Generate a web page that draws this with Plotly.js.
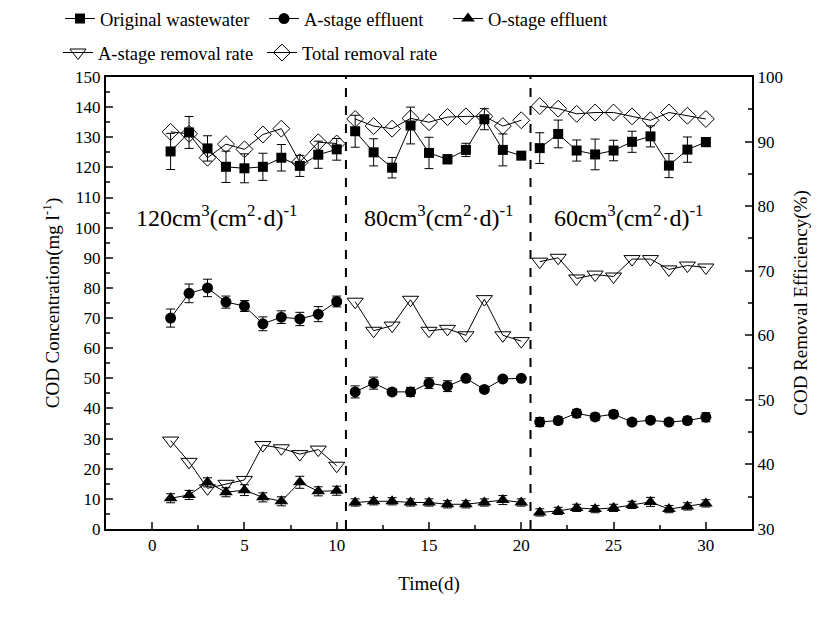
<!DOCTYPE html>
<html>
<head>
<meta charset="utf-8">
<script src="https://cdn.plot.ly/plotly-3.0.1.min.js"></script>
<style>html,body{margin:0;padding:0;background:#fff}#chart{width:829px;height:626px}</style>
</head>
<body>
<div id="chart"></div>
<script>
const days = [1,2,3,4,5,6,7,8,9,10,11,12,13,14,15,16,17,18,19,20,21,22,23,24,25,26,27,28,29,30];

const originalWW = [125.3,131.6,126.3,120.2,119.7,120.2,123.2,120.5,124.2,126.0,
                    132.0,125.0,119.9,133.9,124.8,122.7,125.8,136.0,125.8,123.9,
                    126.4,131.1,125.6,124.3,125.6,128.5,130.3,120.6,125.9,128.4];
const originalErr = [6,5.3,4.2,5.2,4.8,4.5,4.4,3.5,4.5,3.6,
                     5.3,4.5,3.4,6.1,5.2,1.5,2.2,3.5,5.3,0,
                     5.1,4.6,3.5,5.1,3.4,3.5,3.5,4,4.2,1.5];

const aEffluent = [70.0,78.2,80.0,75.3,74.0,68.1,70.3,69.7,71.3,75.5,
                   45.5,48.4,45.5,45.5,48.4,47.4,50.0,46.3,49.8,50.0,
                   35.5,36.0,38.4,37.2,38.1,35.5,36.1,35.5,36.0,37.1];
const aEffErr = [3,3.1,2.9,2,1.8,2.3,2.1,2.2,2.5,1.8,
                 2,2,1,1.5,1.8,1.8,0.5,0,0.5,0.3,
                 1.5,1.2,1.3,1.2,1.2,1,1,1,1.2,1.5];

const oEffluent = [10.2,11.3,15.5,12.2,12.9,10.5,9.2,15.5,12.5,12.7,
                   8.8,9.2,9.2,8.8,8.8,8.2,8.2,8.8,9.6,8.8,
                   5.5,6.0,7.0,6.6,7.0,8.0,9.0,6.6,7.5,8.5];
const oEffErr = [1.5,1.5,1.5,1.5,1.8,1.5,1.5,2,1.5,1.5,
                 1.2,1.2,1.2,1.2,1.2,1.2,1.2,1.2,1.5,1.2,
                 1.2,1.2,1.2,1.2,1.2,1.2,1.5,1.2,1.2,1.2];

const aRemoval = [43.7,40.4,36.3,37.0,37.6,43.0,42.5,41.6,42.3,39.8,
                  65.2,60.7,61.5,65.5,60.7,61.0,60.0,65.6,60.0,59.1,
                  71.4,72.0,68.8,69.4,69.1,71.8,71.8,70.2,70.8,70.5];

const totalRemoval = [91.5,91.2,87.5,89.6,88.8,91.1,92.0,86.8,89.9,89.7,
                      93.5,92.4,92.0,93.6,93.0,93.8,93.9,93.9,92.4,93.3,
                      95.5,95.1,94.3,94.5,94.5,93.9,93.3,94.5,94.0,93.5];

const stageLabels = ["120cm<sup>3</sup>(cm<sup>2</sup>·d)<sup>-1</sup>",
                     "80cm<sup>3</sup>(cm<sup>2</sup>·d)<sup>-1</sup>",
                     "60cm<sup>3</sup>(cm<sup>2</sup>·d)<sup>-1</sup>"];
const stageLabelX = [3.5, 15.5, 25.8];
const stageBoundaries = [10.5, 20.5];
// number of days in each flux stage (lines are not joined across stages)
const stageLengths = [10, 10, 10];

const FONT = "Liberation Serif, Times New Roman, serif";

// split a per-day array into stage segments separated by null (gap in the line)
function segmented(arr) {
  const out = [];
  let i = 0;
  stageLengths.forEach((n, s) => {
    for (let k = 0; k < n; k++) out.push(arr[i++]);
    if (s < stageLengths.length - 1) out.push(null);
  });
  return out;
}
const eb = (arr) => ({type:'data', array:segmented(arr), visible:true, color:'#000', thickness:1, width:4.5});
const X = segmented(days);

const traces = [
  {x:X, y:segmented(originalWW), name:'Original wastewater', mode:'lines+markers', legend:'legend',
   line:{color:'#000', width:1}, marker:{symbol:'square', size:10, color:'#000'}, error_y:eb(originalErr)},
  {x:X, y:segmented(aEffluent), name:'A-stage effluent', mode:'lines+markers', legend:'legend2',
   line:{color:'#000', width:1}, marker:{symbol:'circle', size:11, color:'#000'}, error_y:eb(aEffErr)},
  {x:X, y:segmented(oEffluent), name:'O-stage effluent', mode:'lines+markers', legend:'legend3',
   line:{color:'#000', width:1}, marker:{symbol:'triangle-up', size:12, color:'#000'}, error_y:eb(oEffErr)},
  {x:X, y:segmented(aRemoval), name:'A-stage removal rate', mode:'lines+markers', yaxis:'y2', legend:'legend4',
   line:{color:'#000', width:1}, marker:{symbol:'triangle-down-open', size:14, color:'#000', line:{width:1}}},
  {x:X, y:segmented(totalRemoval), name:'Total removal rate', mode:'lines+markers', yaxis:'y2', legend:'legend5',
   line:{color:'#000', width:1}, marker:{symbol:'diamond-open', size:13, color:'#000', line:{width:1}}}
];

const shapes = stageBoundaries.map(b => ({type:'line', xref:'x', yref:'paper', x0:b, x1:b, y0:0, y1:1,
  line:{color:'#000', width:2, dash:'dash'}}));

const annotations = stageLabels.map((t,i) => ({text:t, x:stageLabelX[i], y:104, xref:'x', yref:'y',
  showarrow:false, font:{family:FONT, size:24, color:'#000'}}));

function leg(px, py) {
  return {orientation:'h', x:px/829, y:1-py/626, xref:'container', yref:'container',
          xanchor:'left', yanchor:'middle', font:{family:FONT, size:18.5, color:'#000'},
          bgcolor:'rgba(0,0,0,0)', borderwidth:0};
}

const layout = {
  width:829, height:626,
  margin:{l:106, r:77, t:77, b:97, autoexpand:false},
  paper_bgcolor:'#fff', plot_bgcolor:'#fff',
  font:{family:FONT, size:17, color:'#000'},
  showlegend:true,
  legend:leg(60, 19), legend2:leg(264, 19), legend3:leg(448, 19),
  legend4:leg(58, 53), legend5:leg(262, 53),
  xaxis:{range:[-2.5,32.5], tickvals:[0,5,10,15,20,25,30], ticks:'inside', ticklen:7, tickwidth:2,
         showline:true, linewidth:2, linecolor:'#000', mirror:true, showgrid:false, zeroline:false,
         minor:{dtick:2.5, tick0:0, ticks:'inside', ticklen:4, tickwidth:2},
         title:{text:'Time(d)', font:{family:FONT, size:19}, standoff:22},
         tickfont:{family:FONT, size:17}},
  yaxis:{range:[0,150], dtick:10, ticks:'inside', ticklen:7, tickwidth:2,
         showline:true, linewidth:2, linecolor:'#000', showgrid:false, zeroline:false,
         minor:{dtick:5, ticks:'inside', ticklen:4, tickwidth:2},
         title:{text:'COD Concentration(mg l<sup>-1</sup>)', font:{family:FONT, size:19}, standoff:10},
         tickfont:{family:FONT, size:17}},
  yaxis2:{range:[30,100], dtick:10, overlaying:'y', side:'right', ticks:'inside', ticklen:7, tickwidth:2,
         showline:true, linewidth:2, linecolor:'#000', showgrid:false, zeroline:false,
         minor:{dtick:5, ticks:'inside', ticklen:4, tickwidth:2},
         title:{text:'COD Removal Efficiency(%)', font:{family:FONT, size:19}, standoff:12},
         tickfont:{family:FONT, size:17}},
  shapes:shapes,
  annotations:annotations
};

Plotly.newPlot('chart', traces, layout, {displayModeBar:false, staticPlot:true});
</script>
</body>
</html>
